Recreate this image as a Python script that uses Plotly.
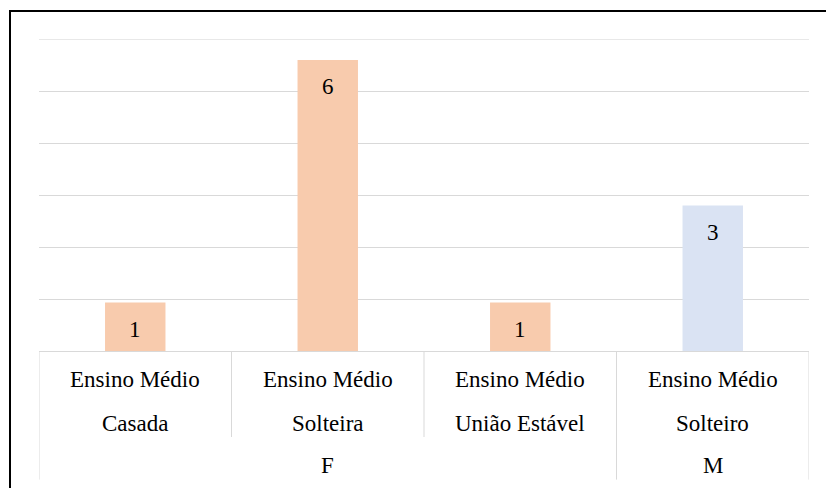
import plotly.graph_objects as go

# Data
genders = ["F", "F", "F", "M"]
schooling = ["Ensino Médio", "Ensino Médio", "Ensino Médio", "Ensino Médio"]
marital = ["Casada", "Solteira", "União Estável", "Solteiro"]
counts = [1, 6, 1, 3]

# Styling
gender_colors = {"F": "#F8CBAD", "M": "#DAE3F3"}
grid_color = "#D9D9D9"
font_family = "'Liberation Serif', Tinos, 'Times New Roman', Times, 'DejaVu Serif', serif"
y_max = 6.43
grid_step = y_max / 6

cats = [f"{s} {m}" for s, m in zip(schooling, marital)]
idx = list(range(len(cats)))

fig = go.Figure(
    go.Bar(
        x=idx,
        y=counts,
        marker=dict(color=[gender_colors[g] for g in genders], line=dict(width=0)),
        hoverinfo="skip",
    )
)

label_font = dict(family=font_family, size=23, color="#000000")
annotations = []
# value labels inside the bars, near the top
for i, v in zip(idx, counts):
    annotations.append(dict(
        x=i, y=v, xref="x", yref="y", text=str(v), showarrow=False,
        yanchor="middle", yshift=-27, font=label_font,
    ))

# category labels: two inner rows per bar
for i, s, m in zip(idx, schooling, marital):
    annotations.append(dict(
        x=i, y=0, xref="x", yref="paper", text=s, showarrow=False,
        yanchor="middle", yshift=-28.6, font=label_font,
    ))
    annotations.append(dict(
        x=i, y=0, xref="x", yref="paper", text=m, showarrow=False,
        yanchor="middle", yshift=-72, font=label_font,
    ))

# outer group labels (gender), centred over each group's span
groups = []
for i, g in zip(idx, genders):
    if groups and groups[-1][0] == g:
        groups[-1][2] = i
    else:
        groups.append([g, i, i])
for g, a, b in groups:
    annotations.append(dict(
        x=(a + b) / 2, y=0, xref="x", yref="paper", text=g, showarrow=False,
        yanchor="middle", yshift=-114.3, font=label_font,
    ))

plot_h = 312
inner_depth = -(436.7 - 350.7) / plot_h
outer_depth = -(479.3 - 350.7) / plot_h

shapes = []
group_edges = {a - 0.5 for _, a, _ in groups} | {b + 0.5 for _, _, b in groups}
for k in range(len(cats) + 1):
    xb = k - 0.5
    shapes.append(dict(
        type="line", xref="x", yref="paper", x0=xb, x1=xb, y0=0,
        y1=outer_depth if xb in group_edges else inner_depth,
        line=dict(color=grid_color, width=1),
    ))

# top gridline at the axis maximum
shapes.append(dict(
    type="line", xref="paper", yref="y", x0=0, x1=1, y0=y_max, y1=y_max,
    line=dict(color=grid_color, width=1), layer="below",
))

# chart frame
shapes.append(dict(
    type="rect", xref="paper", yref="paper",
    x0=(10 - 39) / 770, x1=1.2, y0=-0.8, y1=1 + (39 - 11) / plot_h,
    line=dict(color="#000000", width=2), fillcolor="rgba(0,0,0,0)",
))

fig.update_layout(
    width=826, height=488,
    margin=dict(l=39, r=17, t=39, b=137),
    paper_bgcolor="white", plot_bgcolor="white",
    bargap=0.686,
    showlegend=False,
    font=dict(family=font_family),
    annotations=annotations,
    shapes=shapes,
    xaxis=dict(
        range=[-0.5, len(cats) - 0.5], showticklabels=False, ticks="",
        showgrid=False, zeroline=False, showline=True,
        linecolor=grid_color, linewidth=1, fixedrange=True,
    ),
    yaxis=dict(
        range=[0, y_max + 0.002], tickmode="array",
        tickvals=[k * grid_step for k in range(6)],
        showticklabels=False, ticks="", showgrid=True,
        gridcolor=grid_color, gridwidth=1, zeroline=False,
        showline=False, fixedrange=True,
    ),
)

fig.write_html("out.html", config={"displayModeBar": False})
